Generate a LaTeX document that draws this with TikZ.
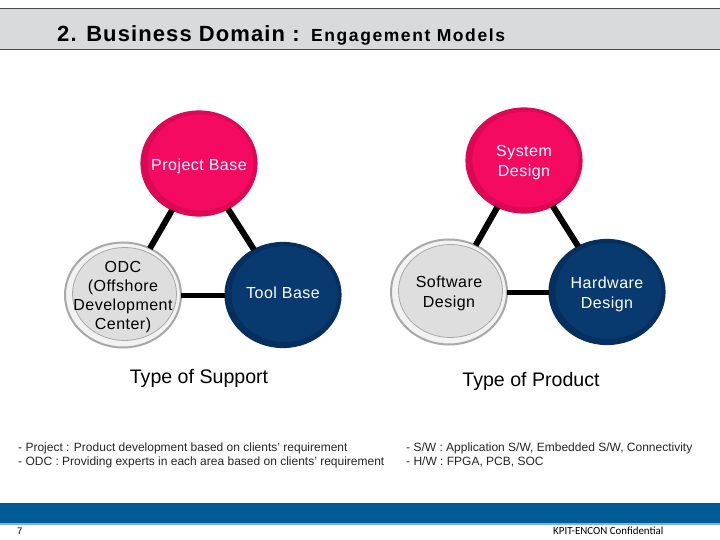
\documentclass[tikz,border=0pt]{standalone}
\usepackage{fontspec}
\setmainfont{Liberation Sans}
\newfontfamily\footfont{Carlito}
\usetikzlibrary{shapes.geometric}
\definecolor{pinkc}{HTML}{F50A62}
\definecolor{pinkd}{HTML}{DC0855}
\definecolor{navyc}{HTML}{083A70}
\definecolor{navyd}{HTML}{052F5E}
\definecolor{greyc}{HTML}{DEDEDE}
\definecolor{greyd}{HTML}{A8A8A8}
\definecolor{greyb}{HTML}{F2F2F2}
\definecolor{headc}{HTML}{D9DADC}
\definecolor{footc}{HTML}{015C95}
\definecolor{footl}{HTML}{7FB2CE}
\newcommand{\disclines}[2]{\raisebox{-#1pt}[0pt][0pt]{\begin{tabular}{@{}c@{}}#2\end{tabular}}}
\tikzset{
  disc/.style args={#1/#2/#3/#4/#5/#6}{ellipse,minimum width=116pt,minimum height=105pt,inner xsep=-35pt,inner ysep=-25pt,outer sep=0pt,
    fill=#1,draw=#2,line width=1.2pt,text=#4,
    font=\fontsize{16}{19.2}\selectfont\addfontfeatures{LetterSpace=3},
    path picture={\draw[#2,fill=#3,line width=0.8pt] ([shift={(1.5pt,1pt)}]path picture bounding box.center) ellipse [x radius=#5,y radius=#6];}},
  pinkdisc/.style={disc=pinkd/pinkd/pinkc/white/53.5pt/48.5pt},
  navydisc/.style={disc=navyd/navyd/navyc/white/53.5pt/48.5pt},
  greydisc/.style={disc=greyb/greyd/greyc/black/52pt/46.5pt,line width=2pt},
  link/.style={line width=6pt,black},
  hlink/.style={line width=5pt,black},
  cap1/.style={font=\fontsize{19.6}{22}\selectfont,anchor=base},
  note/.style={font=\fontsize{12}{14.2}\selectfont,align=left,anchor=north west,inner sep=0pt,text=black!85},
}
\begin{document}
\begin{tikzpicture}[x=1pt,y=-1pt]
\useasboundingbox (0,0) rectangle (720,540);
\fill[white] (0,0) rectangle (720,540);
\fill[headc] (0,8) rectangle (720,49);
\draw[black!70,line width=0.8pt] (0,8.5) -- (720,8.5) (0,49) -- (720,49);
\node[font=\bfseries\fontsize{22}{24}\selectfont\addfontfeatures{LetterSpace=5},anchor=base west,inner sep=0pt] (title) at (57,42) {2. Business Domain :};
\node[font=\bfseries\fontsize{17.5}{20}\selectfont\addfontfeatures{LetterSpace=9},anchor=base west,inner sep=0pt] (subtitle) at (311,42) {Engagement Models};

\node[pinkdisc] (pb) at (199,163.5) {\disclines{7.5}{Project Base}};
\node[greydisc] (odc) at (123,295) {\disclines{6.5}{ODC\\(Offshore\\Development\\Center)}};
\node[navydisc] (tb) at (283,295) {\disclines{4}{Tool Base}};
\node[pinkdisc] (sd) at (524,160.5) {\disclines{6.5}{System\\Design}};
\node[greydisc] (sw) at (449,292) {\disclines{6}{Software\\Design}};
\node[navydisc] (hd) at (607,292) {\disclines{7}{Hardware\\Design}};
\draw[link] (pb) -- (odc);
\draw[link] (pb) -- (tb);
\draw[hlink] (odc) -- (tb);
\draw[link] (sd) -- (sw);
\draw[link] (sd) -- (hd);
\draw[hlink] (sw) -- (hd);

\node[cap1] (ts) at (199,383.5) {Type of Support};
\node[cap1] (tp) at (531,386.5) {Type of Product};

\node[note] (n1) at (18,442.5) {- Project : Product development based on clients' requirement\\- ODC : Providing experts in each area based on clients' requirement};
\node[note] (n2) at (406,442.5) {- S/W : Application S/W, Embedded S/W, Connectivity\\- H/W : FPGA, PCB, SOC};

\fill[footc] (0,503) rectangle (720,523);
\fill[footl] (0,523) rectangle (720,525);
\node[font=\fontsize{9.5}{11}\selectfont,anchor=base west,inner sep=0pt] (pg) at (17,534) {7};
\node[font=\footfont\fontsize{10.9}{11}\selectfont,anchor=base west,inner sep=0pt] (conf) at (553,534) {KPIT-ENCON Confidential};
\end{tikzpicture}
\end{document}
